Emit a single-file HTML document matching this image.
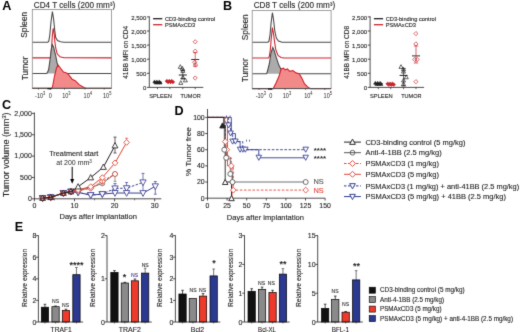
<!DOCTYPE html>
<html><head><meta charset="utf-8"><style>
html,body{margin:0;padding:0;background:#fff;}
svg{display:block;font-family:"Liberation Sans", sans-serif;}
</style></head><body>
<svg width="520" height="332" viewBox="0 0 520 332">
<defs><filter id="bl" color-interpolation-filters="sRGB" x="0" y="0" width="520" height="332" filterUnits="userSpaceOnUse"><feConvolveMatrix order="3" kernelMatrix="0.0113 0.0837 0.0113 0.0837 0.620 0.0837 0.0113 0.0837 0.0113" edgeMode="duplicate"/></filter></defs>
<g filter="url(#bl)">
<rect width="520" height="332" fill="#fff"/>
<text x="2.3" y="10.2" font-size="12.6" fill="#000" text-anchor="start" font-weight="bold" >A</text>
<text x="222.9" y="10.3" font-size="12.6" fill="#000" text-anchor="start" font-weight="bold" >B</text>
<text x="2.0" y="109.2" font-size="12.6" fill="#000" text-anchor="start" font-weight="bold" >C</text>
<text x="174.5" y="114.6" font-size="12.6" fill="#000" text-anchor="start" font-weight="bold" >D</text>
<text x="14.8" y="231.3" font-size="12.6" fill="#000" text-anchor="start" font-weight="bold" >E</text>
<text x="33.8" y="7.5" font-size="8.6" fill="#231f20" text-anchor="start" stroke="#231f20" stroke-width="0.12" textLength="81.5" lengthAdjust="spacingAndGlyphs" >CD4 T cells (200 mm³)</text>
<path d="M32.3,42.2 L47.8,42.2 L48.8,41.2 L49.8,35.0 L51.0,22.0 L52.4,11.5 L53.6,19.0 L54.8,31.0 L55.7,37.5 L57.5,40.5 L60.5,41.8 L64.0,42.2 L111.5,42.2" stroke="#4a4a4a" fill="none" stroke-width="1.1" />
<path d="M32.3,57.9 L50.2,57.9 L50.9,55.5 L51.6,47.0 L52.4,35.0 L53.2,28.4 L54.1,33.0 L54.9,42.0 L55.7,48.0 L57.2,53.8 L60.0,56.8 L64.0,57.7 L111.5,57.9" stroke="#d0222c" fill="none" stroke-width="1.1" />
<path d="M32.3,73.5 L46.5,73.5 L47.2,72.9 L48.6,69.8 L50.2,58.8 L51.5,48.0 L52.4,44.7 L53.5,47.0 L55.7,55.7 L57.2,63.5 L59.6,69.8 L62.7,72.9 L66.0,73.5 L111.5,73.5 Z" stroke="none" fill="#ababab" stroke-width="1" />
<path d="M32.3,73.5 L46.5,73.5 L47.2,72.9 L48.6,69.8 L50.2,58.8 L51.5,48.0 L52.4,44.7 L53.5,47.0 L55.7,55.7 L57.2,63.5 L59.6,69.8 L62.7,72.9 L66.0,73.5 L111.5,73.5" stroke="#4a4a4a" fill="none" stroke-width="1.1" />
<path d="M32.3,88.3 L51.8,88.3 L52.6,86.5 L54.5,76.0 L56.5,68.0 L58.0,65.1 L60.0,67.5 L63.5,72.1 L66.6,72.9 L69.0,75.2 L72.1,79.2 L75.2,80.7 L79.2,84.6 L83.9,87.4 L86.0,88.3 L111.5,88.3 Z" stroke="none" fill="#f38a8a" stroke-width="1" />
<path d="M32.3,88.3 L51.8,88.3 L52.6,86.5 L54.5,76.0 L56.5,68.0 L58.0,65.1 L60.0,67.5 L63.5,72.1 L66.6,72.9 L69.0,75.2 L72.1,79.2 L75.2,80.7 L79.2,84.6 L83.9,87.4 L86.0,88.3 L111.5,88.3" stroke="#d0222c" fill="none" stroke-width="1.1" />
<rect x="32.3" y="9.5" width="79.2" height="78.8" fill="none" stroke="#8a8a8a" stroke-width="0.8"/>
<line x1="32.3" y1="88.3" x2="111.5" y2="88.3" stroke="#444" stroke-width="0.9" />
<text x="27.5" y="24.8" font-size="8.4" fill="#231f20" text-anchor="middle" stroke="#231f20" stroke-width="0.12" transform="rotate(-90 27.5 24.8)" >Spleen</text>
<text x="28" y="68.3" font-size="8.4" fill="#231f20" text-anchor="middle" stroke="#231f20" stroke-width="0.12" transform="rotate(-90 28 68.3)" >Tumor</text>
<line x1="38.5" y1="88.3" x2="38.5" y2="89.6" stroke="#231f20" stroke-width="0.6" />
<line x1="50.3" y1="88.3" x2="50.3" y2="89.6" stroke="#231f20" stroke-width="0.6" />
<line x1="64.5" y1="88.3" x2="64.5" y2="89.6" stroke="#231f20" stroke-width="0.6" />
<line x1="85" y1="88.3" x2="85" y2="89.6" stroke="#231f20" stroke-width="0.6" />
<line x1="104.2" y1="88.3" x2="104.2" y2="89.6" stroke="#231f20" stroke-width="0.6" />
<rect x="47.4" y="88.1" width="4.2" height="1.2" fill="#111"/>
<text x="253.7" y="7.5" font-size="8.6" fill="#231f20" text-anchor="start" stroke="#231f20" stroke-width="0.12" textLength="81.5" lengthAdjust="spacingAndGlyphs" >CD8 T cells (200 mm³)</text>
<path d="M252.2,42.2 L268.0,42.2 L269.0,41.2 L270.0,35.0 L271.2,22.0 L272.4,12.7 L273.6,20.0 L274.8,31.0 L276.3,38.0 L278.5,41.0 L282.0,42.2 L331.1,42.2" stroke="#4a4a4a" fill="none" stroke-width="1.1" />
<path d="M252.2,58.0 L268.3,58.0 L269.3,56.5 L270.3,50.0 L271.4,37.0 L272.4,27.6 L273.4,33.0 L274.6,42.0 L275.7,49.4 L278.0,55.5 L281.0,57.5 L284.0,58.0 L331.1,58.0" stroke="#d0222c" fill="none" stroke-width="1.1" />
<path d="M252.2,73.7 L266.3,73.7 L267.0,72.9 L268.3,68.0 L269.4,63.5 L271.0,53.0 L272.8,47.5 L274.3,51.0 L275.7,55.7 L278.8,65.1 L281.2,69.8 L283.5,73.2 L286.0,73.7 L331.1,73.7 Z" stroke="none" fill="#ababab" stroke-width="1" />
<path d="M252.2,73.7 L266.3,73.7 L267.0,72.9 L268.3,68.0 L269.4,63.5 L271.0,53.0 L272.8,47.5 L274.3,51.0 L275.7,55.7 L278.8,65.1 L281.2,69.8 L283.5,73.2 L286.0,73.7 L331.1,73.7" stroke="#4a4a4a" fill="none" stroke-width="1.1" />
<path d="M252.2,88.6 L273.3,88.6 L276.0,83.0 L278.8,76.8 L281.2,69.0 L283.5,68.2 L285.1,69.8 L287.4,69.0 L289.8,71.3 L292.9,70.5 L296.0,72.9 L299.2,73.7 L301.5,77.6 L304.6,83.9 L308.6,87.8 L310.5,88.6 L331.1,88.6 Z" stroke="none" fill="#f38a8a" stroke-width="1" />
<path d="M252.2,88.6 L273.3,88.6 L276.0,83.0 L278.8,76.8 L281.2,69.0 L283.5,68.2 L285.1,69.8 L287.4,69.0 L289.8,71.3 L292.9,70.5 L296.0,72.9 L299.2,73.7 L301.5,77.6 L304.6,83.9 L308.6,87.8 L310.5,88.6 L331.1,88.6" stroke="#d0222c" fill="none" stroke-width="1.1" />
<rect x="252.2" y="10.5" width="78.90000000000003" height="78.1" fill="none" stroke="#8a8a8a" stroke-width="0.8"/>
<line x1="252.2" y1="88.6" x2="331.1" y2="88.6" stroke="#444" stroke-width="0.9" />
<text x="248.0" y="27.3" font-size="8.4" fill="#231f20" text-anchor="middle" stroke="#231f20" stroke-width="0.12" transform="rotate(-90 248.0 27.3)" >Spleen</text>
<text x="248.5" y="70.2" font-size="8.4" fill="#231f20" text-anchor="middle" stroke="#231f20" stroke-width="0.12" transform="rotate(-90 248.5 70.2)" >Tumor</text>
<line x1="259.1" y1="88.6" x2="259.1" y2="89.89999999999999" stroke="#231f20" stroke-width="0.6" />
<line x1="270.9" y1="88.6" x2="270.9" y2="89.89999999999999" stroke="#231f20" stroke-width="0.6" />
<line x1="285.1" y1="88.6" x2="285.1" y2="89.89999999999999" stroke="#231f20" stroke-width="0.6" />
<line x1="305.6" y1="88.6" x2="305.6" y2="89.89999999999999" stroke="#231f20" stroke-width="0.6" />
<line x1="324.8" y1="88.6" x2="324.8" y2="89.89999999999999" stroke="#231f20" stroke-width="0.6" />
<rect x="268.0" y="88.39999999999999" width="4.2" height="1.2" fill="#111"/>
<g transform="translate(40.2,97.9) scale(0.82,1)"><text x="0" y="0" font-size="6.8" fill="#231f20" text-anchor="middle">-10<tspan font-size="5" dy="-3">3</tspan></text></g>
<g transform="translate(50.3,97.9) scale(0.82,1)"><text x="0" y="0" font-size="6.8" fill="#231f20" text-anchor="middle">0</text></g>
<g transform="translate(66.4,97.9) scale(0.82,1)"><text x="0" y="0" font-size="6.8" fill="#231f20" text-anchor="middle">10<tspan font-size="5" dy="-3">3</tspan></text></g>
<g transform="translate(87.8,97.9) scale(0.82,1)"><text x="0" y="0" font-size="6.8" fill="#231f20" text-anchor="middle">10<tspan font-size="5" dy="-3">4</tspan></text></g>
<g transform="translate(107.2,97.9) scale(0.82,1)"><text x="0" y="0" font-size="6.8" fill="#231f20" text-anchor="middle">10<tspan font-size="5" dy="-3">5</tspan></text></g>
<g transform="translate(260.8,98.2) scale(0.82,1)"><text x="0" y="0" font-size="6.8" fill="#231f20" text-anchor="middle">-10<tspan font-size="5" dy="-3">3</tspan></text></g>
<g transform="translate(270.9,98.2) scale(0.82,1)"><text x="0" y="0" font-size="6.8" fill="#231f20" text-anchor="middle">0</text></g>
<g transform="translate(287.0,98.2) scale(0.82,1)"><text x="0" y="0" font-size="6.8" fill="#231f20" text-anchor="middle">10<tspan font-size="5" dy="-3">3</tspan></text></g>
<g transform="translate(308.4,98.2) scale(0.82,1)"><text x="0" y="0" font-size="6.8" fill="#231f20" text-anchor="middle">10<tspan font-size="5" dy="-3">4</tspan></text></g>
<g transform="translate(327.8,98.2) scale(0.82,1)"><text x="0" y="0" font-size="6.8" fill="#231f20" text-anchor="middle">10<tspan font-size="5" dy="-3">5</tspan></text></g>
<line x1="149.3" y1="16.3" x2="149.3" y2="87.4" stroke="#231f20" stroke-width="0.8" />
<line x1="149.3" y1="87.4" x2="203.3" y2="87.4" stroke="#231f20" stroke-width="0.8" />
<line x1="157.5" y1="87.4" x2="157.5" y2="89.2" stroke="#231f20" stroke-width="0.7" />
<line x1="169.9" y1="87.4" x2="169.9" y2="89.2" stroke="#231f20" stroke-width="0.7" />
<line x1="182.8" y1="87.4" x2="182.8" y2="89.2" stroke="#231f20" stroke-width="0.7" />
<line x1="195.20000000000002" y1="87.4" x2="195.20000000000002" y2="89.2" stroke="#231f20" stroke-width="0.7" />
<line x1="147.0" y1="87.4" x2="149.3" y2="87.4" stroke="#231f20" stroke-width="0.8" />
<text x="146.3" y="90.0" font-size="6.0" fill="#231f20" text-anchor="end" stroke="#231f20" stroke-width="0.12" >0</text>
<line x1="147.0" y1="73.30000000000001" x2="149.3" y2="73.30000000000001" stroke="#231f20" stroke-width="0.8" />
<text x="146.3" y="75.9" font-size="6.0" fill="#231f20" text-anchor="end" stroke="#231f20" stroke-width="0.12" >500</text>
<line x1="147.0" y1="59.2" x2="149.3" y2="59.2" stroke="#231f20" stroke-width="0.8" />
<text x="146.3" y="61.800000000000004" font-size="6.0" fill="#231f20" text-anchor="end" stroke="#231f20" stroke-width="0.12" >1,000</text>
<line x1="147.0" y1="45.10000000000001" x2="149.3" y2="45.10000000000001" stroke="#231f20" stroke-width="0.8" />
<text x="146.3" y="47.70000000000001" font-size="6.0" fill="#231f20" text-anchor="end" stroke="#231f20" stroke-width="0.12" >1,500</text>
<line x1="147.0" y1="31.000000000000007" x2="149.3" y2="31.000000000000007" stroke="#231f20" stroke-width="0.8" />
<text x="146.3" y="33.60000000000001" font-size="6.0" fill="#231f20" text-anchor="end" stroke="#231f20" stroke-width="0.12" >2,000</text>
<line x1="147.0" y1="16.900000000000006" x2="149.3" y2="16.900000000000006" stroke="#231f20" stroke-width="0.8" />
<text x="146.3" y="19.500000000000007" font-size="6.0" fill="#231f20" text-anchor="end" stroke="#231f20" stroke-width="0.12" >2,500</text>
<text x="128.10000000000002" y="52.4" font-size="6.6" fill="#231f20" text-anchor="middle" stroke="#231f20" stroke-width="0.12" textLength="52.9" lengthAdjust="spacingAndGlyphs" transform="rotate(-90 128.10000000000002 52.4)" >41BB MFI on CD4</text>
<line x1="153.10000000000002" y1="18.7" x2="162.3" y2="18.7" stroke="#231f20" stroke-width="1.3" />
<line x1="153.10000000000002" y1="24.7" x2="162.3" y2="24.7" stroke="#c8262c" stroke-width="1.3" />
<text x="164.9" y="20.7" font-size="5.7" fill="#231f20" text-anchor="start" stroke="#231f20" stroke-width="0.12" >CD3-binding control</text>
<text x="164.9" y="26.8" font-size="5.7" fill="#231f20" text-anchor="start" stroke="#231f20" stroke-width="0.12" >PSMAxCD3</text>
<path d="M154.5,79.9 L156.115,82.87500000000001 L152.885,82.87500000000001 Z" stroke="#231f20" fill="#231f20" stroke-width="0.5"/>
<path d="M155.7,81.10000000000001 L157.315,84.07500000000002 L154.08499999999998,84.07500000000002 Z" stroke="#231f20" fill="#231f20" stroke-width="0.5"/>
<path d="M156.9,79.9 L158.51500000000001,82.87500000000001 L155.285,82.87500000000001 Z" stroke="#231f20" fill="#231f20" stroke-width="0.5"/>
<path d="M158.1,81.10000000000001 L159.715,84.07500000000002 L156.48499999999999,84.07500000000002 Z" stroke="#231f20" fill="#231f20" stroke-width="0.5"/>
<path d="M159.3,79.9 L160.91500000000002,82.87500000000001 L157.685,82.87500000000001 Z" stroke="#231f20" fill="#231f20" stroke-width="0.5"/>
<path d="M160.5,81.10000000000001 L162.115,84.07500000000002 L158.885,84.07500000000002 Z" stroke="#231f20" fill="#231f20" stroke-width="0.5"/>
<path d="M166.9,79.3 L168.70000000000002,81.1 L166.9,82.89999999999999 L165.1,81.1 Z" stroke="#c8262c" fill="#c8262c" stroke-width="0.5"/>
<path d="M168.1,80.3 L169.9,82.1 L168.1,83.89999999999999 L166.29999999999998,82.1 Z" stroke="#c8262c" fill="#c8262c" stroke-width="0.5"/>
<path d="M169.3,79.3 L171.10000000000002,81.1 L169.3,82.89999999999999 L167.5,81.1 Z" stroke="#c8262c" fill="#c8262c" stroke-width="0.5"/>
<path d="M170.5,80.3 L172.3,82.1 L170.5,83.89999999999999 L168.7,82.1 Z" stroke="#c8262c" fill="#c8262c" stroke-width="0.5"/>
<path d="M171.70000000000002,79.3 L173.50000000000003,81.1 L171.70000000000002,82.89999999999999 L169.9,81.1 Z" stroke="#c8262c" fill="#c8262c" stroke-width="0.5"/>
<path d="M172.9,80.3 L174.70000000000002,82.1 L172.9,83.89999999999999 L171.1,82.1 Z" stroke="#c8262c" fill="#c8262c" stroke-width="0.5"/>
<line x1="153.0" y1="82.2" x2="162.0" y2="82.2" stroke="#231f20" stroke-width="0.9" />
<line x1="165.4" y1="81.6" x2="174.4" y2="81.6" stroke="#c8262c" stroke-width="0.9" />
<path d="M180.3,64.7 L182.29500000000002,68.375 L178.305,68.375 Z" stroke="#231f20" fill="none" stroke-width="0.7"/>
<path d="M182.4,66.4 L184.395,70.075 L180.405,70.075 Z" stroke="#231f20" fill="none" stroke-width="0.7"/>
<path d="M182.9,68.7 L184.895,72.375 L180.905,72.375 Z" stroke="#231f20" fill="none" stroke-width="0.7"/>
<path d="M182.9,75.4 L184.895,79.075 L180.905,79.075 Z" stroke="#231f20" fill="none" stroke-width="0.7"/>
<path d="M185.4,78.2 L187.395,81.875 L183.405,81.875 Z" stroke="#231f20" fill="none" stroke-width="0.7"/>
<path d="M180.8,80.7 L182.79500000000002,84.375 L178.805,84.375 Z" stroke="#231f20" fill="none" stroke-width="0.7"/>
<line x1="178.8" y1="75.0" x2="186.8" y2="75.0" stroke="#231f20" stroke-width="1" />
<line x1="182.8" y1="70.5" x2="182.8" y2="78.5" stroke="#231f20" stroke-width="0.7" />
<line x1="180.60000000000002" y1="70.5" x2="185.0" y2="70.5" stroke="#231f20" stroke-width="0.7" />
<line x1="180.60000000000002" y1="78.5" x2="185.0" y2="78.5" stroke="#231f20" stroke-width="0.7" />
<path d="M195.20000000000002,39.699999999999996 L197.3,41.8 L195.20000000000002,43.9 L193.10000000000002,41.8 Z" stroke="#c8262c" fill="none" stroke-width="0.7"/>
<path d="M195.20000000000002,49.1 L197.3,51.2 L195.20000000000002,53.300000000000004 L193.10000000000002,51.2 Z" stroke="#c8262c" fill="none" stroke-width="0.7"/>
<path d="M194.70000000000002,60.199999999999996 L196.8,62.3 L194.70000000000002,64.39999999999999 L192.60000000000002,62.3 Z" stroke="#c8262c" fill="none" stroke-width="0.7"/>
<path d="M195.50000000000003,62.9 L197.60000000000002,65 L195.50000000000003,67.1 L193.40000000000003,65 Z" stroke="#c8262c" fill="none" stroke-width="0.7"/>
<path d="M195.20000000000002,75.9 L197.3,78 L195.20000000000002,80.1 L193.10000000000002,78 Z" stroke="#c8262c" fill="none" stroke-width="0.7"/>
<line x1="191.20000000000002" y1="59.5" x2="199.20000000000002" y2="59.5" stroke="#3a2a2a" stroke-width="1" />
<line x1="195.20000000000002" y1="52.6" x2="195.20000000000002" y2="66.2" stroke="#c8262c" stroke-width="0.7" />
<line x1="193.00000000000003" y1="52.6" x2="197.4" y2="52.6" stroke="#c8262c" stroke-width="0.7" />
<line x1="193.00000000000003" y1="66.2" x2="197.4" y2="66.2" stroke="#c8262c" stroke-width="0.7" />
<text x="149.20000000000002" y="98.1" font-size="6" fill="#231f20" text-anchor="start" stroke="#231f20" stroke-width="0.12" textLength="22.7" lengthAdjust="spacingAndGlyphs" >SPLEEN</text>
<text x="180.4" y="98.1" font-size="6" fill="#231f20" text-anchor="start" stroke="#231f20" stroke-width="0.12" textLength="20.3" lengthAdjust="spacingAndGlyphs" >TUMOR</text>
<line x1="370.1" y1="16.3" x2="370.1" y2="87.4" stroke="#231f20" stroke-width="0.8" />
<line x1="370.1" y1="87.4" x2="424.1" y2="87.4" stroke="#231f20" stroke-width="0.8" />
<line x1="378.3" y1="87.4" x2="378.3" y2="89.2" stroke="#231f20" stroke-width="0.7" />
<line x1="390.70000000000005" y1="87.4" x2="390.70000000000005" y2="89.2" stroke="#231f20" stroke-width="0.7" />
<line x1="403.6" y1="87.4" x2="403.6" y2="89.2" stroke="#231f20" stroke-width="0.7" />
<line x1="416.0" y1="87.4" x2="416.0" y2="89.2" stroke="#231f20" stroke-width="0.7" />
<line x1="367.8" y1="87.4" x2="370.1" y2="87.4" stroke="#231f20" stroke-width="0.8" />
<text x="367.1" y="90.0" font-size="6.0" fill="#231f20" text-anchor="end" stroke="#231f20" stroke-width="0.12" >0</text>
<line x1="367.8" y1="73.30000000000001" x2="370.1" y2="73.30000000000001" stroke="#231f20" stroke-width="0.8" />
<text x="367.1" y="75.9" font-size="6.0" fill="#231f20" text-anchor="end" stroke="#231f20" stroke-width="0.12" >500</text>
<line x1="367.8" y1="59.2" x2="370.1" y2="59.2" stroke="#231f20" stroke-width="0.8" />
<text x="367.1" y="61.800000000000004" font-size="6.0" fill="#231f20" text-anchor="end" stroke="#231f20" stroke-width="0.12" >1,000</text>
<line x1="367.8" y1="45.10000000000001" x2="370.1" y2="45.10000000000001" stroke="#231f20" stroke-width="0.8" />
<text x="367.1" y="47.70000000000001" font-size="6.0" fill="#231f20" text-anchor="end" stroke="#231f20" stroke-width="0.12" >1,500</text>
<line x1="367.8" y1="31.000000000000007" x2="370.1" y2="31.000000000000007" stroke="#231f20" stroke-width="0.8" />
<text x="367.1" y="33.60000000000001" font-size="6.0" fill="#231f20" text-anchor="end" stroke="#231f20" stroke-width="0.12" >2,000</text>
<line x1="367.8" y1="16.900000000000006" x2="370.1" y2="16.900000000000006" stroke="#231f20" stroke-width="0.8" />
<text x="367.1" y="19.500000000000007" font-size="6.0" fill="#231f20" text-anchor="end" stroke="#231f20" stroke-width="0.12" >2,500</text>
<text x="348.90000000000003" y="52.4" font-size="6.6" fill="#231f20" text-anchor="middle" stroke="#231f20" stroke-width="0.12" textLength="52.9" lengthAdjust="spacingAndGlyphs" transform="rotate(-90 348.90000000000003 52.4)" >41BB MFI on CD8</text>
<line x1="373.90000000000003" y1="18.7" x2="383.1" y2="18.7" stroke="#231f20" stroke-width="1.3" />
<line x1="373.90000000000003" y1="24.7" x2="383.1" y2="24.7" stroke="#c8262c" stroke-width="1.3" />
<text x="385.70000000000005" y="20.7" font-size="5.7" fill="#231f20" text-anchor="start" stroke="#231f20" stroke-width="0.12" >CD3-binding control</text>
<text x="385.70000000000005" y="26.8" font-size="5.7" fill="#231f20" text-anchor="start" stroke="#231f20" stroke-width="0.12" >PSMAxCD3</text>
<path d="M375.3,81.3 L376.915,84.275 L373.685,84.275 Z" stroke="#231f20" fill="#231f20" stroke-width="0.5"/>
<path d="M376.5,82.5 L378.115,85.47500000000001 L374.885,85.47500000000001 Z" stroke="#231f20" fill="#231f20" stroke-width="0.5"/>
<path d="M377.7,81.3 L379.315,84.275 L376.085,84.275 Z" stroke="#231f20" fill="#231f20" stroke-width="0.5"/>
<path d="M378.90000000000003,82.5 L380.51500000000004,85.47500000000001 L377.285,85.47500000000001 Z" stroke="#231f20" fill="#231f20" stroke-width="0.5"/>
<path d="M380.1,81.3 L381.71500000000003,84.275 L378.485,84.275 Z" stroke="#231f20" fill="#231f20" stroke-width="0.5"/>
<path d="M381.3,82.5 L382.915,85.47500000000001 L379.685,85.47500000000001 Z" stroke="#231f20" fill="#231f20" stroke-width="0.5"/>
<path d="M387.70000000000005,81.9 L389.50000000000006,83.7 L387.70000000000005,85.5 L385.90000000000003,83.7 Z" stroke="#c8262c" fill="#c8262c" stroke-width="0.5"/>
<path d="M388.90000000000003,82.9 L390.70000000000005,84.7 L388.90000000000003,86.5 L387.1,84.7 Z" stroke="#c8262c" fill="#c8262c" stroke-width="0.5"/>
<path d="M390.1,81.9 L391.90000000000003,83.7 L390.1,85.5 L388.3,83.7 Z" stroke="#c8262c" fill="#c8262c" stroke-width="0.5"/>
<path d="M391.30000000000007,82.9 L393.1000000000001,84.7 L391.30000000000007,86.5 L389.50000000000006,84.7 Z" stroke="#c8262c" fill="#c8262c" stroke-width="0.5"/>
<path d="M392.50000000000006,81.9 L394.30000000000007,83.7 L392.50000000000006,85.5 L390.70000000000005,83.7 Z" stroke="#c8262c" fill="#c8262c" stroke-width="0.5"/>
<path d="M393.70000000000005,82.9 L395.50000000000006,84.7 L393.70000000000005,86.5 L391.90000000000003,84.7 Z" stroke="#c8262c" fill="#c8262c" stroke-width="0.5"/>
<line x1="373.8" y1="83.6" x2="382.8" y2="83.6" stroke="#231f20" stroke-width="0.9" />
<line x1="386.20000000000005" y1="84.2" x2="395.20000000000005" y2="84.2" stroke="#c8262c" stroke-width="0.9" />
<path d="M401.0,64.7 L402.995,68.375 L399.005,68.375 Z" stroke="#231f20" fill="none" stroke-width="0.7"/>
<path d="M403.5,67.10000000000001 L405.495,70.775 L401.505,70.775 Z" stroke="#231f20" fill="none" stroke-width="0.7"/>
<path d="M403.5,69.4 L405.495,73.075 L401.505,73.075 Z" stroke="#231f20" fill="none" stroke-width="0.7"/>
<path d="M406.3,75.10000000000001 L408.295,78.775 L404.305,78.775 Z" stroke="#231f20" fill="none" stroke-width="0.7"/>
<path d="M403.5,78.30000000000001 L405.495,81.97500000000001 L401.505,81.97500000000001 Z" stroke="#231f20" fill="none" stroke-width="0.7"/>
<path d="M403.5,81.9 L405.495,85.575 L401.505,85.575 Z" stroke="#231f20" fill="none" stroke-width="0.7"/>
<line x1="399.6" y1="75.4" x2="407.6" y2="75.4" stroke="#231f20" stroke-width="1" />
<line x1="403.6" y1="68.6" x2="403.6" y2="86" stroke="#231f20" stroke-width="0.7" />
<line x1="401.40000000000003" y1="68.6" x2="405.8" y2="68.6" stroke="#231f20" stroke-width="0.7" />
<line x1="401.40000000000003" y1="86" x2="405.8" y2="86" stroke="#231f20" stroke-width="0.7" />
<path d="M415.9,31.5 L418.0,33.6 L415.9,35.7 L413.79999999999995,33.6 Z" stroke="#c8262c" fill="none" stroke-width="0.7"/>
<path d="M415.9,41.8 L418.0,43.9 L415.9,46.0 L413.79999999999995,43.9 Z" stroke="#c8262c" fill="none" stroke-width="0.7"/>
<path d="M414.7,57.4 L416.8,59.5 L414.7,61.6 L412.59999999999997,59.5 Z" stroke="#c8262c" fill="none" stroke-width="0.7"/>
<path d="M417.2,57.4 L419.3,59.5 L417.2,61.6 L415.09999999999997,59.5 Z" stroke="#c8262c" fill="none" stroke-width="0.7"/>
<path d="M415.9,79.60000000000001 L418.0,81.7 L415.9,83.8 L413.79999999999995,81.7 Z" stroke="#c8262c" fill="none" stroke-width="0.7"/>
<line x1="412.0" y1="55.9" x2="420.0" y2="55.9" stroke="#3a2a2a" stroke-width="1" />
<line x1="416.0" y1="46" x2="416.0" y2="63" stroke="#c8262c" stroke-width="0.7" />
<line x1="413.8" y1="46" x2="418.2" y2="46" stroke="#c8262c" stroke-width="0.7" />
<line x1="413.8" y1="63" x2="418.2" y2="63" stroke="#c8262c" stroke-width="0.7" />
<text x="370.0" y="98.1" font-size="6" fill="#231f20" text-anchor="start" stroke="#231f20" stroke-width="0.12" textLength="22.7" lengthAdjust="spacingAndGlyphs" >SPLEEN</text>
<text x="401.20000000000005" y="98.1" font-size="6" fill="#231f20" text-anchor="start" stroke="#231f20" stroke-width="0.12" textLength="20.3" lengthAdjust="spacingAndGlyphs" >TUMOR</text>
<line x1="34.4" y1="112.5" x2="34.4" y2="198.8" stroke="#231f20" stroke-width="0.8" />
<line x1="34.4" y1="198.8" x2="161.3" y2="198.8" stroke="#231f20" stroke-width="0.8" />
<line x1="31.9" y1="198.8" x2="34.4" y2="198.8" stroke="#231f20" stroke-width="0.8" />
<text x="31.799999999999997" y="201.10000000000002" font-size="7.0" fill="#231f20" text-anchor="end" stroke="#231f20" stroke-width="0.12" >0</text>
<line x1="31.9" y1="177.45000000000002" x2="34.4" y2="177.45000000000002" stroke="#231f20" stroke-width="0.8" />
<text x="31.799999999999997" y="179.75000000000003" font-size="7.0" fill="#231f20" text-anchor="end" stroke="#231f20" stroke-width="0.12" >500</text>
<line x1="31.9" y1="156.10000000000002" x2="34.4" y2="156.10000000000002" stroke="#231f20" stroke-width="0.8" />
<text x="31.799999999999997" y="158.40000000000003" font-size="7.0" fill="#231f20" text-anchor="end" stroke="#231f20" stroke-width="0.12" >1,000</text>
<line x1="31.9" y1="134.75" x2="34.4" y2="134.75" stroke="#231f20" stroke-width="0.8" />
<text x="31.799999999999997" y="137.05" font-size="7.0" fill="#231f20" text-anchor="end" stroke="#231f20" stroke-width="0.12" >1,500</text>
<line x1="31.9" y1="113.4" x2="34.4" y2="113.4" stroke="#231f20" stroke-width="0.8" />
<text x="31.799999999999997" y="115.7" font-size="7.0" fill="#231f20" text-anchor="end" stroke="#231f20" stroke-width="0.12" >2,000</text>
<line x1="34.4" y1="198.8" x2="34.4" y2="201.3" stroke="#231f20" stroke-width="0.8" />
<text x="34.4" y="208.0" font-size="7.0" fill="#231f20" text-anchor="middle" stroke="#231f20" stroke-width="0.12" >0</text>
<line x1="74.5" y1="198.8" x2="74.5" y2="201.3" stroke="#231f20" stroke-width="0.8" />
<text x="74.5" y="208.0" font-size="7.0" fill="#231f20" text-anchor="middle" stroke="#231f20" stroke-width="0.12" >10</text>
<line x1="114.6" y1="198.8" x2="114.6" y2="201.3" stroke="#231f20" stroke-width="0.8" />
<text x="114.6" y="208.0" font-size="7.0" fill="#231f20" text-anchor="middle" stroke="#231f20" stroke-width="0.12" >20</text>
<line x1="154.7" y1="198.8" x2="154.7" y2="201.3" stroke="#231f20" stroke-width="0.8" />
<text x="154.7" y="208.0" font-size="7.0" fill="#231f20" text-anchor="middle" stroke="#231f20" stroke-width="0.12" >30</text>
<line x1="54.449999999999996" y1="198.8" x2="54.449999999999996" y2="200.3" stroke="#231f20" stroke-width="0.6" />
<line x1="94.55" y1="198.8" x2="94.55" y2="200.3" stroke="#231f20" stroke-width="0.6" />
<line x1="134.65" y1="198.8" x2="134.65" y2="200.3" stroke="#231f20" stroke-width="0.6" />
<text x="98.2" y="218.6" font-size="7" fill="#231f20" text-anchor="middle" stroke="#231f20" stroke-width="0.12" textLength="77.5" lengthAdjust="spacingAndGlyphs" >Days after implantation</text>
<text x="9.2" y="154.8" font-size="9.1" fill="#231f20" stroke="#231f20" stroke-width="0.12" text-anchor="middle" transform="rotate(-90 9.2 154.8)">Tumor volume (mm<tspan font-size="6" dy="-3.6">3</tspan><tspan dy="3.6">)</tspan></text>
<text x="73.8" y="156.3" font-size="7" fill="#231f20" text-anchor="middle" stroke="#231f20" stroke-width="0.12" textLength="49.2" lengthAdjust="spacingAndGlyphs" >Treatment start</text>
<text x="74.1" y="164.9" font-size="7" fill="#231f20" text-anchor="middle">at 200 mm<tspan font-size="4.6" dy="-2.2">3</tspan></text>
<line x1="72.2" y1="166.8" x2="72.2" y2="180" stroke="#000" stroke-width="1" />
<path d="M70.2,179 L74.2,179 L72.2,183.8 Z" stroke="none" fill="#000" stroke-width="1" />
<path d="M42.6,198.1 L50.7,197.3 L63.4,193.1 L70.9,191.6 L78.1,192.4 L90.7,195.1 L102.3,194.1 L115.0,188.4 L126.6,188.2 L143.0,182.4" stroke="#3b3f93" fill="none" stroke-width="1.0" stroke-dasharray="2.5,1.5"/>
<line x1="143.0" y1="173.4" x2="143.0" y2="193.10000000000002" stroke="#3b3f93" stroke-width="0.7" />
<line x1="141.5" y1="173.4" x2="144.5" y2="173.4" stroke="#3b3f93" stroke-width="0.7" />
<line x1="141.5" y1="193.10000000000002" x2="144.5" y2="193.10000000000002" stroke="#3b3f93" stroke-width="0.7" />
<line x1="115.0" y1="183.5" x2="115.0" y2="192.0" stroke="#3b3f93" stroke-width="0.7" />
<line x1="113.5" y1="183.5" x2="116.5" y2="183.5" stroke="#3b3f93" stroke-width="0.7" />
<line x1="113.5" y1="192.0" x2="116.5" y2="192.0" stroke="#3b3f93" stroke-width="0.7" />
<line x1="126.60000000000001" y1="182.5" x2="126.60000000000001" y2="192.0" stroke="#3b3f93" stroke-width="0.7" />
<line x1="125.10000000000001" y1="182.5" x2="128.10000000000002" y2="182.5" stroke="#3b3f93" stroke-width="0.7" />
<line x1="125.10000000000001" y1="192.0" x2="128.10000000000002" y2="192.0" stroke="#3b3f93" stroke-width="0.7" />
<path d="M42.6,201.41200000000003 L45.7464,195.616 L39.4536,195.616 Z" stroke="#3b3f93" fill="none" stroke-width="0.85"/>
<path d="M50.7,200.61200000000002 L53.8464,194.816 L47.5536,194.816 Z" stroke="#3b3f93" fill="none" stroke-width="0.85"/>
<path d="M63.400000000000006,196.41200000000003 L66.5464,190.616 L60.253600000000006,190.616 Z" stroke="#3b3f93" fill="none" stroke-width="0.85"/>
<path d="M70.9,194.91200000000003 L74.0464,189.116 L67.7536,189.116 Z" stroke="#3b3f93" fill="none" stroke-width="0.85"/>
<path d="M78.10000000000001,195.71200000000002 L81.24640000000001,189.916 L74.95360000000001,189.916 Z" stroke="#3b3f93" fill="white" stroke-width="0.85"/>
<path d="M90.7,198.41200000000003 L93.8464,192.616 L87.5536,192.616 Z" stroke="#3b3f93" fill="white" stroke-width="0.85"/>
<path d="M102.3,197.41200000000003 L105.4464,191.616 L99.1536,191.616 Z" stroke="#3b3f93" fill="white" stroke-width="0.85"/>
<path d="M115.0,191.71200000000002 L118.1464,185.916 L111.8536,185.916 Z" stroke="#3b3f93" fill="white" stroke-width="0.85"/>
<path d="M126.60000000000001,191.51200000000003 L129.7464,185.716 L123.45360000000001,185.716 Z" stroke="#3b3f93" fill="white" stroke-width="0.85"/>
<path d="M143.0,185.71200000000002 L146.1464,179.916 L139.8536,179.916 Z" stroke="#3b3f93" fill="white" stroke-width="0.85"/>
<path d="M42.6,198.1 L50.7,197.3 L63.4,193.1 L70.9,191.6 L78.1,192.4 L90.7,195.1 L102.3,194.1 L115.0,193.0 L126.6,193.0 L143.0,193.1 L155.3,186.3" stroke="#3b3f93" fill="none" stroke-width="1.0" />
<line x1="155.29999999999998" y1="181.5" x2="155.29999999999998" y2="194.20000000000002" stroke="#3b3f93" stroke-width="0.7" />
<line x1="153.79999999999998" y1="181.5" x2="156.79999999999998" y2="181.5" stroke="#3b3f93" stroke-width="0.7" />
<line x1="153.79999999999998" y1="194.20000000000002" x2="156.79999999999998" y2="194.20000000000002" stroke="#3b3f93" stroke-width="0.7" />
<path d="M42.6,201.41200000000003 L45.7464,195.616 L39.4536,195.616 Z" stroke="#3b3f93" fill="none" stroke-width="0.85"/>
<path d="M50.7,200.61200000000002 L53.8464,194.816 L47.5536,194.816 Z" stroke="#3b3f93" fill="none" stroke-width="0.85"/>
<path d="M63.400000000000006,196.41200000000003 L66.5464,190.616 L60.253600000000006,190.616 Z" stroke="#3b3f93" fill="none" stroke-width="0.85"/>
<path d="M70.9,194.91200000000003 L74.0464,189.116 L67.7536,189.116 Z" stroke="#3b3f93" fill="none" stroke-width="0.85"/>
<path d="M78.10000000000001,195.71200000000002 L81.24640000000001,189.916 L74.95360000000001,189.916 Z" stroke="#3b3f93" fill="white" stroke-width="0.85"/>
<path d="M90.7,198.41200000000003 L93.8464,192.616 L87.5536,192.616 Z" stroke="#3b3f93" fill="white" stroke-width="0.85"/>
<path d="M102.3,197.41200000000003 L105.4464,191.616 L99.1536,191.616 Z" stroke="#3b3f93" fill="white" stroke-width="0.85"/>
<path d="M115.0,196.312 L118.1464,190.516 L111.8536,190.516 Z" stroke="#3b3f93" fill="white" stroke-width="0.85"/>
<path d="M126.60000000000001,196.312 L129.7464,190.516 L123.45360000000001,190.516 Z" stroke="#3b3f93" fill="white" stroke-width="0.85"/>
<path d="M143.0,196.41200000000003 L146.1464,190.616 L139.8536,190.616 Z" stroke="#3b3f93" fill="white" stroke-width="0.85"/>
<path d="M155.29999999999998,189.61200000000002 L158.44639999999998,183.816 L152.15359999999998,183.816 Z" stroke="#3b3f93" fill="white" stroke-width="0.85"/>
<path d="M42.6,198.1 L50.7,197.3 L63.4,193.1 L70.9,191.6 L78.1,190.3 L90.7,187.8 L102.3,183.3 L115.0,174.0" stroke="#6d6e71" fill="none" stroke-width="1.0" />
<line x1="115.0" y1="174.0" x2="115.0" y2="181.4" stroke="#6d6e71" stroke-width="0.7" />
<line x1="113.5" y1="174.0" x2="116.5" y2="174.0" stroke="#6d6e71" stroke-width="0.7" />
<line x1="113.5" y1="181.4" x2="116.5" y2="181.4" stroke="#6d6e71" stroke-width="0.7" />
<circle cx="42.6" cy="198.10000000000002" r="2.484" stroke="#6d6e71" fill="none" stroke-width="0.85"/>
<circle cx="50.7" cy="197.3" r="2.484" stroke="#6d6e71" fill="none" stroke-width="0.85"/>
<circle cx="63.400000000000006" cy="193.10000000000002" r="2.484" stroke="#6d6e71" fill="none" stroke-width="0.85"/>
<circle cx="70.9" cy="191.60000000000002" r="2.484" stroke="#6d6e71" fill="none" stroke-width="0.85"/>
<circle cx="78.10000000000001" cy="190.3" r="2.484" stroke="#6d6e71" fill="white" stroke-width="0.85"/>
<circle cx="90.7" cy="187.8" r="2.484" stroke="#6d6e71" fill="white" stroke-width="0.85"/>
<circle cx="102.3" cy="183.3" r="2.484" stroke="#6d6e71" fill="white" stroke-width="0.85"/>
<circle cx="115.0" cy="174.0" r="2.484" stroke="#6d6e71" fill="white" stroke-width="0.85"/>
<path d="M42.6,198.1 L50.7,197.3 L63.4,193.1 L70.9,191.6 L78.1,190.6 L90.7,188.3 L102.3,181.4 L115.0,174.0" stroke="#e0452f" fill="none" stroke-width="1.0" stroke-dasharray="2.5,1.5"/>
<path d="M42.6,195.20200000000003 L45.498000000000005,198.10000000000002 L42.6,200.99800000000002 L39.702,198.10000000000002 Z" stroke="#e0452f" fill="none" stroke-width="0.85"/>
<path d="M50.7,194.40200000000002 L53.598,197.3 L50.7,200.198 L47.80200000000001,197.3 Z" stroke="#e0452f" fill="none" stroke-width="0.85"/>
<path d="M63.400000000000006,190.20200000000003 L66.298,193.10000000000002 L63.400000000000006,195.99800000000002 L60.50200000000001,193.10000000000002 Z" stroke="#e0452f" fill="none" stroke-width="0.85"/>
<path d="M70.9,188.70200000000003 L73.798,191.60000000000002 L70.9,194.49800000000002 L68.00200000000001,191.60000000000002 Z" stroke="#e0452f" fill="none" stroke-width="0.85"/>
<path d="M78.10000000000001,187.70200000000003 L80.998,190.60000000000002 L78.10000000000001,193.49800000000002 L75.20200000000001,190.60000000000002 Z" stroke="#e0452f" fill="white" stroke-width="0.85"/>
<path d="M90.7,185.40200000000002 L93.598,188.3 L90.7,191.198 L87.802,188.3 Z" stroke="#e0452f" fill="white" stroke-width="0.85"/>
<path d="M102.3,178.502 L105.198,181.4 L102.3,184.298 L99.402,181.4 Z" stroke="#e0452f" fill="white" stroke-width="0.85"/>
<path d="M115.0,171.102 L117.898,174.0 L115.0,176.898 L112.102,174.0 Z" stroke="#e0452f" fill="white" stroke-width="0.85"/>
<path d="M42.6,198.1 L50.7,197.3 L63.4,193.1 L70.9,191.6 L78.1,189.8 L90.7,186.7 L102.3,177.6 L115.0,162.9 L126.6,142.4" stroke="#e0452f" fill="none" stroke-width="1.0" />
<line x1="126.60000000000001" y1="138.20000000000002" x2="126.60000000000001" y2="143.8" stroke="#e0452f" stroke-width="0.7" />
<line x1="125.10000000000001" y1="138.20000000000002" x2="128.10000000000002" y2="138.20000000000002" stroke="#e0452f" stroke-width="0.7" />
<line x1="125.10000000000001" y1="143.8" x2="128.10000000000002" y2="143.8" stroke="#e0452f" stroke-width="0.7" />
<line x1="102.3" y1="176.8" x2="102.3" y2="184.0" stroke="#e0452f" stroke-width="0.7" />
<line x1="100.8" y1="176.8" x2="103.8" y2="176.8" stroke="#e0452f" stroke-width="0.7" />
<line x1="100.8" y1="184.0" x2="103.8" y2="184.0" stroke="#e0452f" stroke-width="0.7" />
<path d="M42.6,195.20200000000003 L45.498000000000005,198.10000000000002 L42.6,200.99800000000002 L39.702,198.10000000000002 Z" stroke="#e0452f" fill="none" stroke-width="0.85"/>
<path d="M50.7,194.40200000000002 L53.598,197.3 L50.7,200.198 L47.80200000000001,197.3 Z" stroke="#e0452f" fill="none" stroke-width="0.85"/>
<path d="M63.400000000000006,190.20200000000003 L66.298,193.10000000000002 L63.400000000000006,195.99800000000002 L60.50200000000001,193.10000000000002 Z" stroke="#e0452f" fill="none" stroke-width="0.85"/>
<path d="M70.9,188.70200000000003 L73.798,191.60000000000002 L70.9,194.49800000000002 L68.00200000000001,191.60000000000002 Z" stroke="#e0452f" fill="none" stroke-width="0.85"/>
<path d="M78.10000000000001,186.90200000000002 L80.998,189.8 L78.10000000000001,192.698 L75.20200000000001,189.8 Z" stroke="#e0452f" fill="white" stroke-width="0.85"/>
<path d="M90.7,183.80200000000002 L93.598,186.70000000000002 L90.7,189.598 L87.802,186.70000000000002 Z" stroke="#e0452f" fill="white" stroke-width="0.85"/>
<path d="M102.3,174.70200000000003 L105.198,177.60000000000002 L102.3,180.49800000000002 L99.402,177.60000000000002 Z" stroke="#e0452f" fill="white" stroke-width="0.85"/>
<path d="M115.0,160.002 L117.898,162.9 L115.0,165.798 L112.102,162.9 Z" stroke="#e0452f" fill="white" stroke-width="0.85"/>
<path d="M126.60000000000001,139.502 L129.49800000000002,142.4 L126.60000000000001,145.298 L123.70200000000001,142.4 Z" stroke="#e0452f" fill="white" stroke-width="0.85"/>
<path d="M42.6,198.1 L50.7,197.3 L63.4,193.1 L70.9,191.6 L78.1,186.7 L90.7,177.6 L103.4,167.1 L115.0,145.6" stroke="#231f20" fill="none" stroke-width="1.0" />
<line x1="115.0" y1="137.10000000000002" x2="115.0" y2="153.0" stroke="#231f20" stroke-width="0.7" />
<line x1="113.5" y1="137.10000000000002" x2="116.5" y2="137.10000000000002" stroke="#231f20" stroke-width="0.7" />
<line x1="113.5" y1="153.0" x2="116.5" y2="153.0" stroke="#231f20" stroke-width="0.7" />
<path d="M42.6,195.06400000000002 L45.4842,200.377 L39.7158,200.377 Z" stroke="#231f20" fill="none" stroke-width="0.85"/>
<path d="M50.7,194.264 L53.5842,199.577 L47.8158,199.577 Z" stroke="#231f20" fill="none" stroke-width="0.85"/>
<path d="M63.400000000000006,190.06400000000002 L66.2842,195.377 L60.515800000000006,195.377 Z" stroke="#231f20" fill="none" stroke-width="0.85"/>
<path d="M70.9,188.56400000000002 L73.7842,193.877 L68.01580000000001,193.877 Z" stroke="#231f20" fill="none" stroke-width="0.85"/>
<path d="M78.10000000000001,183.66400000000002 L80.98420000000002,188.977 L75.2158,188.977 Z" stroke="#231f20" fill="white" stroke-width="0.85"/>
<path d="M90.7,174.56400000000002 L93.58420000000001,179.877 L87.8158,179.877 Z" stroke="#231f20" fill="white" stroke-width="0.85"/>
<path d="M103.4,164.06400000000002 L106.2842,169.377 L100.51580000000001,169.377 Z" stroke="#231f20" fill="white" stroke-width="0.85"/>
<path d="M115.0,142.56400000000002 L117.88419999999999,147.877 L112.11580000000001,147.877 Z" stroke="#231f20" fill="white" stroke-width="0.85"/>
<line x1="207.5" y1="109" x2="207.5" y2="198.2" stroke="#231f20" stroke-width="0.8" />
<line x1="207.5" y1="198.2" x2="325.1" y2="198.2" stroke="#231f20" stroke-width="0.8" />
<line x1="205.2" y1="198.2" x2="207.5" y2="198.2" stroke="#231f20" stroke-width="0.8" />
<text x="204.7" y="200.6" font-size="6.9" fill="#231f20" text-anchor="end" stroke="#231f20" stroke-width="0.12" >0</text>
<line x1="205.2" y1="182.04" x2="207.5" y2="182.04" stroke="#231f20" stroke-width="0.8" />
<text x="204.7" y="184.44" font-size="6.9" fill="#231f20" text-anchor="end" stroke="#231f20" stroke-width="0.12" >20</text>
<line x1="205.2" y1="165.88" x2="207.5" y2="165.88" stroke="#231f20" stroke-width="0.8" />
<text x="204.7" y="168.28" font-size="6.9" fill="#231f20" text-anchor="end" stroke="#231f20" stroke-width="0.12" >40</text>
<line x1="205.2" y1="149.71999999999997" x2="207.5" y2="149.71999999999997" stroke="#231f20" stroke-width="0.8" />
<text x="204.7" y="152.11999999999998" font-size="6.9" fill="#231f20" text-anchor="end" stroke="#231f20" stroke-width="0.12" >60</text>
<line x1="205.2" y1="133.56" x2="207.5" y2="133.56" stroke="#231f20" stroke-width="0.8" />
<text x="204.7" y="135.96" font-size="6.9" fill="#231f20" text-anchor="end" stroke="#231f20" stroke-width="0.12" >80</text>
<line x1="205.2" y1="117.39999999999998" x2="207.5" y2="117.39999999999998" stroke="#231f20" stroke-width="0.8" />
<text x="204.7" y="119.79999999999998" font-size="6.9" fill="#231f20" text-anchor="end" stroke="#231f20" stroke-width="0.12" >100</text>
<line x1="207.5" y1="198.2" x2="207.5" y2="200.5" stroke="#231f20" stroke-width="0.8" />
<text x="207.5" y="207.6" font-size="6.9" fill="#231f20" text-anchor="middle" stroke="#231f20" stroke-width="0.12" >0</text>
<line x1="227.1" y1="198.2" x2="227.1" y2="200.5" stroke="#231f20" stroke-width="0.8" />
<text x="227.1" y="207.6" font-size="6.9" fill="#231f20" text-anchor="middle" stroke="#231f20" stroke-width="0.12" >25</text>
<line x1="246.7" y1="198.2" x2="246.7" y2="200.5" stroke="#231f20" stroke-width="0.8" />
<text x="246.7" y="207.6" font-size="6.9" fill="#231f20" text-anchor="middle" stroke="#231f20" stroke-width="0.12" >50</text>
<line x1="266.3" y1="198.2" x2="266.3" y2="200.5" stroke="#231f20" stroke-width="0.8" />
<text x="266.3" y="207.6" font-size="6.9" fill="#231f20" text-anchor="middle" stroke="#231f20" stroke-width="0.12" >75</text>
<line x1="285.9" y1="198.2" x2="285.9" y2="200.5" stroke="#231f20" stroke-width="0.8" />
<text x="285.9" y="207.6" font-size="6.9" fill="#231f20" text-anchor="middle" stroke="#231f20" stroke-width="0.12" >100</text>
<line x1="305.5" y1="198.2" x2="305.5" y2="200.5" stroke="#231f20" stroke-width="0.8" />
<text x="305.5" y="207.6" font-size="6.9" fill="#231f20" text-anchor="middle" stroke="#231f20" stroke-width="0.12" >125</text>
<line x1="325.1" y1="198.2" x2="325.1" y2="200.5" stroke="#231f20" stroke-width="0.8" />
<text x="325.1" y="207.6" font-size="6.9" fill="#231f20" text-anchor="middle" stroke="#231f20" stroke-width="0.12" >150</text>
<text x="265.4" y="219.9" font-size="7.2" fill="#231f20" text-anchor="middle" stroke="#231f20" stroke-width="0.12" textLength="77.2" lengthAdjust="spacingAndGlyphs" >Days after implantation</text>
<text x="191.5" y="151.6" font-size="8.1" fill="#231f20" text-anchor="middle" stroke="#231f20" stroke-width="0.12" transform="rotate(-90 191.5 151.6)" >% Tumor free</text>
<path d="M207.5,117.4 L228.6,117.4 L228.6,125.5 L230.6,125.5 L230.6,133.6 L232.6,133.6 L232.6,141.6 L242.8,141.6 L242.8,149.7 L305.7,149.7" stroke="#2e3a8f" fill="none" stroke-width="0.9" stroke-dasharray="2.6,1.6"/>
<path d="M207.5,117.4 L231.3,117.4 L231.3,133.6 L235.4,133.6 L235.4,141.6 L240.1,141.6 L240.1,149.7 L258.8,149.7 L258.8,157.8 L305.7,157.8" stroke="#2e3a8f" fill="none" stroke-width="0.9" />
<path d="M207.5,117.4 L225.3,117.4 L225.3,141.6 L226.8,141.6 L226.8,157.8 L231.3,157.8 L231.3,165.9 L233.3,165.9 L233.3,190.1 L305.7,190.1" stroke="#e2463b" fill="none" stroke-width="0.9" stroke-dasharray="2.6,1.6"/>
<path d="M207.5,117.4 L227.5,117.4 L227.5,165.9 L232.0,165.9 L232.0,198.2" stroke="#e2463b" fill="none" stroke-width="0.9" />
<path d="M207.5,117.4 L224.3,117.4 L224.3,149.7 L226.2,149.7 L226.2,157.8 L230.3,157.8 L230.3,174.0 L232.5,174.0 L232.5,182.0 L305.7,182.0" stroke="#555555" fill="none" stroke-width="0.85" />
<path d="M207.5,117.4 L223.8,117.4 L223.8,125.5 L225.2,125.5 L225.2,182.0 L231.5,182.0 L231.5,198.2" stroke="#231f20" fill="none" stroke-width="0.9" />
<line x1="246.5" y1="139.64" x2="246.5" y2="141.64" stroke="#2e3a8f" stroke-width="0.7" />
<line x1="249.5" y1="139.64" x2="249.5" y2="141.64" stroke="#2e3a8f" stroke-width="0.7" />
<line x1="226.5" y1="115.39999999999998" x2="226.5" y2="117.39999999999998" stroke="#2e3a8f" stroke-width="0.7" />
<line x1="230" y1="115.39999999999998" x2="230" y2="117.39999999999998" stroke="#2e3a8f" stroke-width="0.7" />
<path d="M228.6,127.97999999999999 L231.355,122.90499999999999 L225.845,122.90499999999999 Z" stroke="#2e3a8f" fill="white" stroke-width="0.85"/>
<path d="M230.6,136.06 L233.355,130.98499999999999 L227.845,130.98499999999999 Z" stroke="#2e3a8f" fill="white" stroke-width="0.85"/>
<path d="M232.6,144.14 L235.355,139.06499999999997 L229.845,139.06499999999997 Z" stroke="#2e3a8f" fill="white" stroke-width="0.85"/>
<path d="M235.4,144.14 L238.155,139.06499999999997 L232.645,139.06499999999997 Z" stroke="#2e3a8f" fill="white" stroke-width="0.85"/>
<path d="M240.1,152.21999999999997 L242.855,147.14499999999995 L237.345,147.14499999999995 Z" stroke="#2e3a8f" fill="white" stroke-width="0.85"/>
<path d="M242.8,152.21999999999997 L245.555,147.14499999999995 L240.04500000000002,147.14499999999995 Z" stroke="#2e3a8f" fill="white" stroke-width="0.85"/>
<path d="M245.3,152.21999999999997 L248.055,147.14499999999995 L242.54500000000002,147.14499999999995 Z" stroke="#2e3a8f" fill="white" stroke-width="0.85"/>
<path d="M258.8,160.29999999999998 L261.555,155.22499999999997 L256.045,155.22499999999997 Z" stroke="#2e3a8f" fill="white" stroke-width="0.85"/>
<path d="M305.7,160.29999999999998 L308.455,155.22499999999997 L302.945,155.22499999999997 Z" stroke="#2e3a8f" fill="white" stroke-width="0.85"/>
<path d="M305.7,152.21999999999997 L308.455,147.14499999999995 L302.945,147.14499999999995 Z" stroke="#2e3a8f" fill="white" stroke-width="0.85"/>
<path d="M225.3,138.73999999999998 L228.20000000000002,141.64 L225.3,144.54 L222.4,141.64 Z" stroke="#e2463b" fill="white" stroke-width="0.85"/>
<path d="M226.8,146.81999999999996 L229.70000000000002,149.71999999999997 L226.8,152.61999999999998 L223.9,149.71999999999997 Z" stroke="#e2463b" fill="white" stroke-width="0.85"/>
<path d="M227.5,154.89999999999998 L230.4,157.79999999999998 L227.5,160.7 L224.6,157.79999999999998 Z" stroke="#e2463b" fill="white" stroke-width="0.85"/>
<path d="M231.3,162.98 L234.20000000000002,165.88 L231.3,168.78 L228.4,165.88 Z" stroke="#e2463b" fill="white" stroke-width="0.85"/>
<path d="M233.3,187.21999999999997 L236.20000000000002,190.11999999999998 L233.3,193.01999999999998 L230.4,190.11999999999998 Z" stroke="#e2463b" fill="white" stroke-width="0.85"/>
<path d="M305.7,187.21999999999997 L308.59999999999997,190.11999999999998 L305.7,193.01999999999998 L302.8,190.11999999999998 Z" stroke="#e2463b" fill="white" stroke-width="0.85"/>
<circle cx="224.3" cy="149.71999999999997" r="2.5" stroke="#555555" fill="white" stroke-width="0.85"/>
<circle cx="226.2" cy="157.79999999999998" r="2.5" stroke="#555555" fill="white" stroke-width="0.85"/>
<circle cx="230.3" cy="173.95999999999998" r="2.5" stroke="#555555" fill="white" stroke-width="0.85"/>
<circle cx="232.5" cy="182.04" r="2.5" stroke="#555555" fill="white" stroke-width="0.85"/>
<circle cx="305.7" cy="182.04" r="2.5" stroke="#555555" fill="white" stroke-width="0.85"/>
<path d="M222.5,122.87999999999998 L225.255,127.95499999999998 L219.745,127.95499999999998 Z" stroke="#231f20" fill="#222" stroke-width="0.9"/>
<path d="M225.2,179.44 L227.95499999999998,184.51500000000001 L222.445,184.51500000000001 Z" stroke="#231f20" fill="white" stroke-width="0.9"/>
<path d="M231.5,195.6 L234.255,200.675 L228.745,200.675 Z" stroke="#231f20" fill="white" stroke-width="0.9"/>
<text x="313.8" y="153.3" font-size="8" fill="#231f20" text-anchor="start" font-weight="bold" textLength="12.2" lengthAdjust="spacingAndGlyphs" >****</text>
<text x="313.8" y="160.7" font-size="8" fill="#231f20" text-anchor="start" font-weight="bold" textLength="12.2" lengthAdjust="spacingAndGlyphs" >****</text>
<text x="313.5" y="184.3" font-size="7.4" fill="#555555" text-anchor="start" stroke="#555555" stroke-width="0.12" >NS</text>
<text x="313.5" y="193.3" font-size="7.4" fill="#e2463b" text-anchor="start" stroke="#e2463b" stroke-width="0.12" >NS</text>
<line x1="344" y1="142.1" x2="360.9" y2="142.1" stroke="#231f20" stroke-width="1.0" />
<path d="M352.5,139.1 L355.35,144.35 L349.65,144.35 Z" stroke="#231f20" fill="white" stroke-width="0.95"/>
<text x="365.4" y="144.79999999999998" font-size="7.9" fill="#231f20" text-anchor="start" stroke="#231f20" stroke-width="0.12" textLength="100.0" lengthAdjust="spacingAndGlyphs" >CD3-binding control (5 mg/kg)</text>
<line x1="344" y1="152.7" x2="360.9" y2="152.7" stroke="#555" stroke-width="1.0" />
<circle cx="352.5" cy="152.7" r="2.4" stroke="#555" fill="none" stroke-width="0.9"/>
<text x="365.4" y="155.39999999999998" font-size="7.9" fill="#231f20" text-anchor="start" stroke="#231f20" stroke-width="0.12" textLength="76.3" lengthAdjust="spacingAndGlyphs" >Anti-4-1BB (2.5 mg/kg)</text>
<line x1="344" y1="163.5" x2="360.9" y2="163.5" stroke="#e2463b" stroke-width="1.0" stroke-dasharray="2.5,1.5"/>
<path d="M352.5,160.5 L355.5,163.5 L352.5,166.5 L349.5,163.5 Z" stroke="#e2463b" fill="white" stroke-width="0.95"/>
<text x="365.4" y="166.2" font-size="7.9" fill="#231f20" text-anchor="start" stroke="#231f20" stroke-width="0.12" textLength="73.6" lengthAdjust="spacingAndGlyphs" >PSMAxCD3 (1 mg/kg)</text>
<line x1="344" y1="174.3" x2="360.9" y2="174.3" stroke="#e2463b" stroke-width="1.0" />
<path d="M352.5,171.3 L355.5,174.3 L352.5,177.3 L349.5,174.3 Z" stroke="#e2463b" fill="white" stroke-width="0.95"/>
<text x="365.4" y="177.0" font-size="7.9" fill="#231f20" text-anchor="start" stroke="#231f20" stroke-width="0.12" textLength="73.6" lengthAdjust="spacingAndGlyphs" >PSMAxCD3 (5 mg/kg)</text>
<line x1="344" y1="185.9" x2="360.9" y2="185.9" stroke="#2e3a8f" stroke-width="1.0" stroke-dasharray="2.5,1.5"/>
<path d="M352.5,188.9 L355.35,183.65 L349.65,183.65 Z" stroke="#2e3a8f" fill="white" stroke-width="0.95"/>
<text x="365.4" y="188.6" font-size="7.9" fill="#231f20" text-anchor="start" stroke="#231f20" stroke-width="0.12" textLength="153.8" lengthAdjust="spacingAndGlyphs" >PSMAxCD3 (1 mg/kg) + anti-41BB (2.5 mg/kg)</text>
<line x1="344" y1="196.6" x2="360.9" y2="196.6" stroke="#2e3a8f" stroke-width="1.0" />
<path d="M352.5,199.6 L355.35,194.35 L349.65,194.35 Z" stroke="#2e3a8f" fill="white" stroke-width="0.95"/>
<text x="365.4" y="199.29999999999998" font-size="7.9" fill="#231f20" text-anchor="start" stroke="#231f20" stroke-width="0.12" textLength="140.6" lengthAdjust="spacingAndGlyphs" >PSMAxCD3 (5 mg/kg) + 41BB (2.5 mg/kg)</text>
<line x1="38.4" y1="235.29999999999998" x2="38.4" y2="322.0" stroke="#231f20" stroke-width="0.8" />
<line x1="36.1" y1="322.0" x2="38.4" y2="322.0" stroke="#231f20" stroke-width="0.8" />
<text x="36.3" y="324.5" font-size="7" fill="#231f20" text-anchor="end" stroke="#231f20" stroke-width="0.12" >0</text>
<line x1="36.1" y1="300.4" x2="38.4" y2="300.4" stroke="#231f20" stroke-width="0.8" />
<text x="36.3" y="302.9" font-size="7" fill="#231f20" text-anchor="end" stroke="#231f20" stroke-width="0.12" >2</text>
<line x1="36.1" y1="278.8" x2="38.4" y2="278.8" stroke="#231f20" stroke-width="0.8" />
<text x="36.3" y="281.3" font-size="7" fill="#231f20" text-anchor="end" stroke="#231f20" stroke-width="0.12" >4</text>
<line x1="36.1" y1="257.2" x2="38.4" y2="257.2" stroke="#231f20" stroke-width="0.8" />
<text x="36.3" y="259.7" font-size="7" fill="#231f20" text-anchor="end" stroke="#231f20" stroke-width="0.12" >6</text>
<line x1="36.1" y1="235.6" x2="38.4" y2="235.6" stroke="#231f20" stroke-width="0.8" />
<text x="36.3" y="238.1" font-size="7" fill="#231f20" text-anchor="end" stroke="#231f20" stroke-width="0.12" >8</text>
<line x1="44.949999999999996" y1="304.3" x2="44.949999999999996" y2="307.2" stroke="#231f20" stroke-width="0.8" />
<line x1="43.65" y1="304.3" x2="46.24999999999999" y2="304.3" stroke="#231f20" stroke-width="0.8" />
<rect x="41.3" y="307.2" width="7.3" height="14.8" fill="#111111" stroke="#000" stroke-width="0.7"/>
<line x1="55.55" y1="306" x2="55.55" y2="306.7" stroke="#231f20" stroke-width="0.8" />
<line x1="54.25" y1="306" x2="56.849999999999994" y2="306" stroke="#231f20" stroke-width="0.8" />
<rect x="51.9" y="306.7" width="7.3" height="15.3" fill="#8a8a8a" stroke="#000" stroke-width="0.7"/>
<line x1="65.95" y1="309.2" x2="65.95" y2="310.4" stroke="#231f20" stroke-width="0.8" />
<line x1="64.65" y1="309.2" x2="67.25" y2="309.2" stroke="#231f20" stroke-width="0.8" />
<rect x="62.3" y="310.4" width="7.3" height="11.6" fill="#ee3a2b" stroke="#000" stroke-width="0.7"/>
<line x1="76.45" y1="267.5" x2="76.45" y2="274.7" stroke="#555" stroke-width="0.8" />
<line x1="75.15" y1="267.5" x2="77.75" y2="267.5" stroke="#555" stroke-width="0.8" />
<rect x="72.8" y="274.7" width="7.3" height="47.3" fill="#2b3990" stroke="#000" stroke-width="0.7"/>
<line x1="38.4" y1="322.0" x2="83.1" y2="322.0" stroke="#231f20" stroke-width="0.8" />
<line x1="44.949999999999996" y1="322.0" x2="44.949999999999996" y2="323.5" stroke="#231f20" stroke-width="0.6" />
<line x1="55.55" y1="322.0" x2="55.55" y2="323.5" stroke="#231f20" stroke-width="0.6" />
<line x1="65.95" y1="322.0" x2="65.95" y2="323.5" stroke="#231f20" stroke-width="0.6" />
<line x1="76.45" y1="322.0" x2="76.45" y2="323.5" stroke="#231f20" stroke-width="0.6" />
<text x="50.6" y="332.3" font-size="7.8" fill="#231f20" text-anchor="start" stroke="#231f20" stroke-width="0.12" textLength="21.1" lengthAdjust="spacingAndGlyphs" >TRAF1</text>
<text x="26.6" y="277.9" font-size="6.8" fill="#231f20" text-anchor="middle" stroke="#231f20" stroke-width="0.12" textLength="58.3" lengthAdjust="spacingAndGlyphs" transform="rotate(-90 26.6 277.9)" >Relative expression</text>
<text x="55.6" y="303.40000000000003" font-size="5.1" fill="#333333" text-anchor="middle" stroke="#333333" stroke-width="0.12" >NS</text>
<text x="65.6" y="307.1" font-size="5.1" fill="#333333" text-anchor="middle" stroke="#333333" stroke-width="0.12" >NS</text>
<text x="76.4" y="267.79999999999995" font-size="9" fill="#231f20" text-anchor="middle" font-weight="bold" >****</text>
<line x1="107.0" y1="235.29999999999998" x2="107.0" y2="322.0" stroke="#231f20" stroke-width="0.8" />
<line x1="104.7" y1="322.0" x2="107.0" y2="322.0" stroke="#231f20" stroke-width="0.8" />
<text x="104.9" y="324.5" font-size="7" fill="#231f20" text-anchor="end" stroke="#231f20" stroke-width="0.12" >0</text>
<line x1="104.7" y1="278.8" x2="107.0" y2="278.8" stroke="#231f20" stroke-width="0.8" />
<text x="104.9" y="281.3" font-size="7" fill="#231f20" text-anchor="end" stroke="#231f20" stroke-width="0.12" >1</text>
<line x1="104.7" y1="235.6" x2="107.0" y2="235.6" stroke="#231f20" stroke-width="0.8" />
<text x="104.9" y="238.1" font-size="7" fill="#231f20" text-anchor="end" stroke="#231f20" stroke-width="0.12" >2</text>
<line x1="114.45" y1="270.6" x2="114.45" y2="272.4" stroke="#231f20" stroke-width="0.8" />
<line x1="113.15" y1="270.6" x2="115.75" y2="270.6" stroke="#231f20" stroke-width="0.8" />
<rect x="110.8" y="272.4" width="7.3" height="49.6" fill="#111111" stroke="#000" stroke-width="0.7"/>
<line x1="124.85000000000001" y1="282.3" x2="124.85000000000001" y2="283" stroke="#231f20" stroke-width="0.8" />
<line x1="123.55000000000001" y1="282.3" x2="126.15" y2="282.3" stroke="#231f20" stroke-width="0.8" />
<rect x="121.2" y="283.0" width="7.3" height="39.0" fill="#8a8a8a" stroke="#000" stroke-width="0.7"/>
<line x1="134.95000000000002" y1="279" x2="134.95000000000002" y2="280.8" stroke="#231f20" stroke-width="0.8" />
<line x1="133.65" y1="279" x2="136.25000000000003" y2="279" stroke="#231f20" stroke-width="0.8" />
<rect x="131.3" y="280.8" width="7.3" height="41.2" fill="#ee3a2b" stroke="#000" stroke-width="0.7"/>
<line x1="145.15" y1="268.3" x2="145.15" y2="273.1" stroke="#555" stroke-width="0.8" />
<line x1="143.85" y1="268.3" x2="146.45000000000002" y2="268.3" stroke="#555" stroke-width="0.8" />
<rect x="141.5" y="273.1" width="7.3" height="48.9" fill="#2b3990" stroke="#000" stroke-width="0.7"/>
<line x1="107.0" y1="322.0" x2="151.8" y2="322.0" stroke="#231f20" stroke-width="0.8" />
<line x1="114.45" y1="322.0" x2="114.45" y2="323.5" stroke="#231f20" stroke-width="0.6" />
<line x1="124.85000000000001" y1="322.0" x2="124.85000000000001" y2="323.5" stroke="#231f20" stroke-width="0.6" />
<line x1="134.95000000000002" y1="322.0" x2="134.95000000000002" y2="323.5" stroke="#231f20" stroke-width="0.6" />
<line x1="145.15" y1="322.0" x2="145.15" y2="323.5" stroke="#231f20" stroke-width="0.6" />
<text x="118.7" y="332.3" font-size="7.8" fill="#231f20" text-anchor="start" stroke="#231f20" stroke-width="0.12" textLength="22.10000000000001" lengthAdjust="spacingAndGlyphs" >TRAF2</text>
<text x="95.2" y="277.9" font-size="6.8" fill="#231f20" text-anchor="middle" stroke="#231f20" stroke-width="0.12" textLength="58.3" lengthAdjust="spacingAndGlyphs" transform="rotate(-90 95.2 277.9)" >Relative expression</text>
<text x="124.6" y="279.5" font-size="9" fill="#231f20" text-anchor="middle" font-weight="bold" >*</text>
<text x="134.5" y="276.7" font-size="5.1" fill="#4a3a8a" text-anchor="middle" stroke="#4a3a8a" stroke-width="0.12" >NS</text>
<text x="145.2" y="266.5" font-size="5.1" fill="#333333" text-anchor="middle" stroke="#333333" stroke-width="0.12" >NS</text>
<line x1="175.4" y1="235.29999999999998" x2="175.4" y2="322.0" stroke="#231f20" stroke-width="0.8" />
<line x1="173.1" y1="322.0" x2="175.4" y2="322.0" stroke="#231f20" stroke-width="0.8" />
<text x="173.3" y="324.5" font-size="7" fill="#231f20" text-anchor="end" stroke="#231f20" stroke-width="0.12" >0</text>
<line x1="173.1" y1="300.4" x2="175.4" y2="300.4" stroke="#231f20" stroke-width="0.8" />
<text x="173.3" y="302.9" font-size="7" fill="#231f20" text-anchor="end" stroke="#231f20" stroke-width="0.12" >1</text>
<line x1="173.1" y1="278.8" x2="175.4" y2="278.8" stroke="#231f20" stroke-width="0.8" />
<text x="173.3" y="281.3" font-size="7" fill="#231f20" text-anchor="end" stroke="#231f20" stroke-width="0.12" >2</text>
<line x1="173.1" y1="257.2" x2="175.4" y2="257.2" stroke="#231f20" stroke-width="0.8" />
<text x="173.3" y="259.7" font-size="7" fill="#231f20" text-anchor="end" stroke="#231f20" stroke-width="0.12" >3</text>
<line x1="173.1" y1="235.6" x2="175.4" y2="235.6" stroke="#231f20" stroke-width="0.8" />
<text x="173.3" y="238.1" font-size="7" fill="#231f20" text-anchor="end" stroke="#231f20" stroke-width="0.12" >4</text>
<line x1="182.55" y1="290.3" x2="182.55" y2="294" stroke="#231f20" stroke-width="0.8" />
<line x1="181.25" y1="290.3" x2="183.85000000000002" y2="290.3" stroke="#231f20" stroke-width="0.8" />
<rect x="178.9" y="294.0" width="7.3" height="28.0" fill="#111111" stroke="#000" stroke-width="0.7"/>
<rect x="189.2" y="298.6" width="7.3" height="23.4" fill="#8a8a8a" stroke="#000" stroke-width="0.7"/>
<line x1="203.05" y1="293.6" x2="203.05" y2="296.1" stroke="#231f20" stroke-width="0.8" />
<line x1="201.75" y1="293.6" x2="204.35000000000002" y2="293.6" stroke="#231f20" stroke-width="0.8" />
<rect x="199.4" y="296.1" width="7.3" height="25.9" fill="#ee3a2b" stroke="#000" stroke-width="0.7"/>
<line x1="213.65" y1="269" x2="213.65" y2="275.9" stroke="#555" stroke-width="0.8" />
<line x1="212.35" y1="269" x2="214.95000000000002" y2="269" stroke="#555" stroke-width="0.8" />
<rect x="210" y="275.9" width="7.3" height="46.1" fill="#2b3990" stroke="#000" stroke-width="0.7"/>
<line x1="175.4" y1="322.0" x2="220.3" y2="322.0" stroke="#231f20" stroke-width="0.8" />
<line x1="182.55" y1="322.0" x2="182.55" y2="323.5" stroke="#231f20" stroke-width="0.6" />
<line x1="192.85" y1="322.0" x2="192.85" y2="323.5" stroke="#231f20" stroke-width="0.6" />
<line x1="203.05" y1="322.0" x2="203.05" y2="323.5" stroke="#231f20" stroke-width="0.6" />
<line x1="213.65" y1="322.0" x2="213.65" y2="323.5" stroke="#231f20" stroke-width="0.6" />
<text x="190.8" y="332.3" font-size="7.8" fill="#231f20" text-anchor="start" stroke="#231f20" stroke-width="0.12" textLength="13.399999999999977" lengthAdjust="spacingAndGlyphs" >Bcl2</text>
<text x="162.2" y="277.9" font-size="6.8" fill="#231f20" text-anchor="middle" stroke="#231f20" stroke-width="0.12" textLength="58.3" lengthAdjust="spacingAndGlyphs" transform="rotate(-90 162.2 277.9)" >Relative expression</text>
<text x="193" y="291.7" font-size="5.1" fill="#333333" text-anchor="middle" stroke="#333333" stroke-width="0.12" >NS</text>
<text x="202.5" y="291.7" font-size="5.1" fill="#333333" text-anchor="middle" stroke="#333333" stroke-width="0.12" >NS</text>
<text x="214.1" y="265.9" font-size="9" fill="#231f20" text-anchor="middle" font-weight="bold" >*</text>
<line x1="244.5" y1="235.29999999999998" x2="244.5" y2="322.0" stroke="#231f20" stroke-width="0.8" />
<line x1="242.2" y1="322.0" x2="244.5" y2="322.0" stroke="#231f20" stroke-width="0.8" />
<text x="242.4" y="324.5" font-size="7" fill="#231f20" text-anchor="end" stroke="#231f20" stroke-width="0.12" >0</text>
<line x1="242.2" y1="293.2" x2="244.5" y2="293.2" stroke="#231f20" stroke-width="0.8" />
<text x="242.4" y="295.7" font-size="7" fill="#231f20" text-anchor="end" stroke="#231f20" stroke-width="0.12" >1</text>
<line x1="242.2" y1="264.4" x2="244.5" y2="264.4" stroke="#231f20" stroke-width="0.8" />
<text x="242.4" y="266.9" font-size="7" fill="#231f20" text-anchor="end" stroke="#231f20" stroke-width="0.12" >2</text>
<line x1="242.2" y1="235.6" x2="244.5" y2="235.6" stroke="#231f20" stroke-width="0.8" />
<text x="242.4" y="238.1" font-size="7" fill="#231f20" text-anchor="end" stroke="#231f20" stroke-width="0.12" >3</text>
<line x1="251.65" y1="288.7" x2="251.65" y2="291.3" stroke="#231f20" stroke-width="0.8" />
<line x1="250.35" y1="288.7" x2="252.95000000000002" y2="288.7" stroke="#231f20" stroke-width="0.8" />
<rect x="248" y="291.3" width="7.3" height="30.7" fill="#111111" stroke="#000" stroke-width="0.7"/>
<line x1="262.04999999999995" y1="287.1" x2="262.04999999999995" y2="289.4" stroke="#231f20" stroke-width="0.8" />
<line x1="260.74999999999994" y1="287.1" x2="263.34999999999997" y2="287.1" stroke="#231f20" stroke-width="0.8" />
<rect x="258.4" y="289.4" width="7.3" height="32.6" fill="#8a8a8a" stroke="#000" stroke-width="0.7"/>
<line x1="272.54999999999995" y1="290.3" x2="272.54999999999995" y2="292.5" stroke="#231f20" stroke-width="0.8" />
<line x1="271.24999999999994" y1="290.3" x2="273.84999999999997" y2="290.3" stroke="#231f20" stroke-width="0.8" />
<rect x="268.9" y="292.5" width="7.3" height="29.5" fill="#ee3a2b" stroke="#000" stroke-width="0.7"/>
<line x1="282.95" y1="268.7" x2="282.95" y2="274.1" stroke="#555" stroke-width="0.8" />
<line x1="281.65" y1="268.7" x2="284.25" y2="268.7" stroke="#555" stroke-width="0.8" />
<rect x="279.3" y="274.1" width="7.3" height="47.9" fill="#2b3990" stroke="#000" stroke-width="0.7"/>
<line x1="244.5" y1="322.0" x2="289.6" y2="322.0" stroke="#231f20" stroke-width="0.8" />
<line x1="251.65" y1="322.0" x2="251.65" y2="323.5" stroke="#231f20" stroke-width="0.6" />
<line x1="262.04999999999995" y1="322.0" x2="262.04999999999995" y2="323.5" stroke="#231f20" stroke-width="0.6" />
<line x1="272.54999999999995" y1="322.0" x2="272.54999999999995" y2="323.5" stroke="#231f20" stroke-width="0.6" />
<line x1="282.95" y1="322.0" x2="282.95" y2="323.5" stroke="#231f20" stroke-width="0.6" />
<text x="258.1" y="332.3" font-size="7.8" fill="#231f20" text-anchor="start" stroke="#231f20" stroke-width="0.12" textLength="17.899999999999977" lengthAdjust="spacingAndGlyphs" >Bcl-XL</text>
<text x="232.8" y="277.9" font-size="6.8" fill="#231f20" text-anchor="middle" stroke="#231f20" stroke-width="0.12" textLength="58.3" lengthAdjust="spacingAndGlyphs" transform="rotate(-90 232.8 277.9)" >Relative expression</text>
<text x="261.5" y="284.90000000000003" font-size="5.1" fill="#333333" text-anchor="middle" stroke="#333333" stroke-width="0.12" >NS</text>
<text x="271.4" y="284.90000000000003" font-size="5.1" fill="#333333" text-anchor="middle" stroke="#333333" stroke-width="0.12" >NS</text>
<text x="283.1" y="266.9" font-size="9" fill="#231f20" text-anchor="middle" font-weight="bold" >**</text>
<line x1="317.7" y1="235.29999999999998" x2="317.7" y2="322.0" stroke="#231f20" stroke-width="0.8" />
<line x1="315.4" y1="322.0" x2="317.7" y2="322.0" stroke="#231f20" stroke-width="0.8" />
<text x="315.59999999999997" y="324.5" font-size="7" fill="#231f20" text-anchor="end" stroke="#231f20" stroke-width="0.12" >0</text>
<line x1="315.4" y1="293.2" x2="317.7" y2="293.2" stroke="#231f20" stroke-width="0.8" />
<text x="315.59999999999997" y="295.7" font-size="7" fill="#231f20" text-anchor="end" stroke="#231f20" stroke-width="0.12" >5</text>
<line x1="315.4" y1="264.4" x2="317.7" y2="264.4" stroke="#231f20" stroke-width="0.8" />
<text x="315.59999999999997" y="266.9" font-size="7" fill="#231f20" text-anchor="end" stroke="#231f20" stroke-width="0.12" >10</text>
<line x1="315.4" y1="235.6" x2="317.7" y2="235.6" stroke="#231f20" stroke-width="0.8" />
<text x="315.59999999999997" y="238.1" font-size="7" fill="#231f20" text-anchor="end" stroke="#231f20" stroke-width="0.12" >15</text>
<line x1="325.15" y1="304.2" x2="325.15" y2="308.4" stroke="#231f20" stroke-width="0.8" />
<line x1="323.84999999999997" y1="304.2" x2="326.45" y2="304.2" stroke="#231f20" stroke-width="0.8" />
<rect x="321.5" y="308.4" width="7.3" height="13.6" fill="#111111" stroke="#000" stroke-width="0.7"/>
<line x1="335.25" y1="296.1" x2="335.25" y2="299.5" stroke="#231f20" stroke-width="0.8" />
<line x1="333.95" y1="296.1" x2="336.55" y2="296.1" stroke="#231f20" stroke-width="0.8" />
<rect x="331.6" y="299.5" width="7.3" height="22.5" fill="#8a8a8a" stroke="#000" stroke-width="0.7"/>
<line x1="345.65" y1="311.5" x2="345.65" y2="312.2" stroke="#231f20" stroke-width="0.8" />
<line x1="344.34999999999997" y1="311.5" x2="346.95" y2="311.5" stroke="#231f20" stroke-width="0.8" />
<rect x="342" y="312.2" width="7.3" height="9.8" fill="#ee3a2b" stroke="#000" stroke-width="0.7"/>
<line x1="356.15" y1="270.7" x2="356.15" y2="279.9" stroke="#555" stroke-width="0.8" />
<line x1="354.84999999999997" y1="270.7" x2="357.45" y2="270.7" stroke="#555" stroke-width="0.8" />
<rect x="352.5" y="279.9" width="7.3" height="42.1" fill="#2b3990" stroke="#000" stroke-width="0.7"/>
<line x1="317.7" y1="322.0" x2="362.8" y2="322.0" stroke="#231f20" stroke-width="0.8" />
<line x1="325.15" y1="322.0" x2="325.15" y2="323.5" stroke="#231f20" stroke-width="0.6" />
<line x1="335.25" y1="322.0" x2="335.25" y2="323.5" stroke="#231f20" stroke-width="0.6" />
<line x1="345.65" y1="322.0" x2="345.65" y2="323.5" stroke="#231f20" stroke-width="0.6" />
<line x1="356.15" y1="322.0" x2="356.15" y2="323.5" stroke="#231f20" stroke-width="0.6" />
<text x="331.7" y="332.3" font-size="7.8" fill="#231f20" text-anchor="start" stroke="#231f20" stroke-width="0.12" textLength="17.30000000000001" lengthAdjust="spacingAndGlyphs" >BFL-1</text>
<text x="301.2" y="277.9" font-size="6.8" fill="#231f20" text-anchor="middle" stroke="#231f20" stroke-width="0.12" textLength="58.3" lengthAdjust="spacingAndGlyphs" transform="rotate(-90 301.2 277.9)" >Relative expression</text>
<text x="335" y="292.8" font-size="5.1" fill="#333333" text-anchor="middle" stroke="#333333" stroke-width="0.12" >NS</text>
<text x="345.5" y="306.40000000000003" font-size="5.1" fill="#333333" text-anchor="middle" stroke="#333333" stroke-width="0.12" >NS</text>
<text x="356.5" y="269.0" font-size="9" fill="#231f20" text-anchor="middle" font-weight="bold" >**</text>
<rect x="369.2" y="287.2" width="6.2" height="6" fill="#111111" stroke="#000" stroke-width="0.6"/>
<text x="380" y="292.4" font-size="6.4" fill="#231f20" text-anchor="start" stroke="#231f20" stroke-width="0.12" textLength="84.6" lengthAdjust="spacingAndGlyphs" >CD3-binding control (5 mg/kg)</text>
<rect x="369.2" y="296.6" width="6.2" height="6" fill="#8a8a8a" stroke="#000" stroke-width="0.6"/>
<text x="380" y="301.84999999999997" font-size="6.4" fill="#231f20" text-anchor="start" stroke="#231f20" stroke-width="0.12" textLength="64" lengthAdjust="spacingAndGlyphs" >Anti-4-1BB (2.5 mg/kg)</text>
<rect x="369.2" y="306.1" width="6.2" height="6" fill="#ee3a2b" stroke="#000" stroke-width="0.6"/>
<text x="380" y="311.29999999999995" font-size="6.4" fill="#231f20" text-anchor="start" stroke="#231f20" stroke-width="0.12" textLength="61.5" lengthAdjust="spacingAndGlyphs" >PSMAxCD3 (5 mg/kg)</text>
<rect x="369.2" y="315.6" width="6.2" height="6" fill="#2b3990" stroke="#000" stroke-width="0.6"/>
<text x="380" y="320.75" font-size="6.4" fill="#231f20" text-anchor="start" stroke="#231f20" stroke-width="0.12" textLength="133" lengthAdjust="spacingAndGlyphs" >PSMAxCD3 (5 mg/kg) + anti-4-1BB (2.5 mg/kg)</text>
</g>
</svg>
</body></html>
